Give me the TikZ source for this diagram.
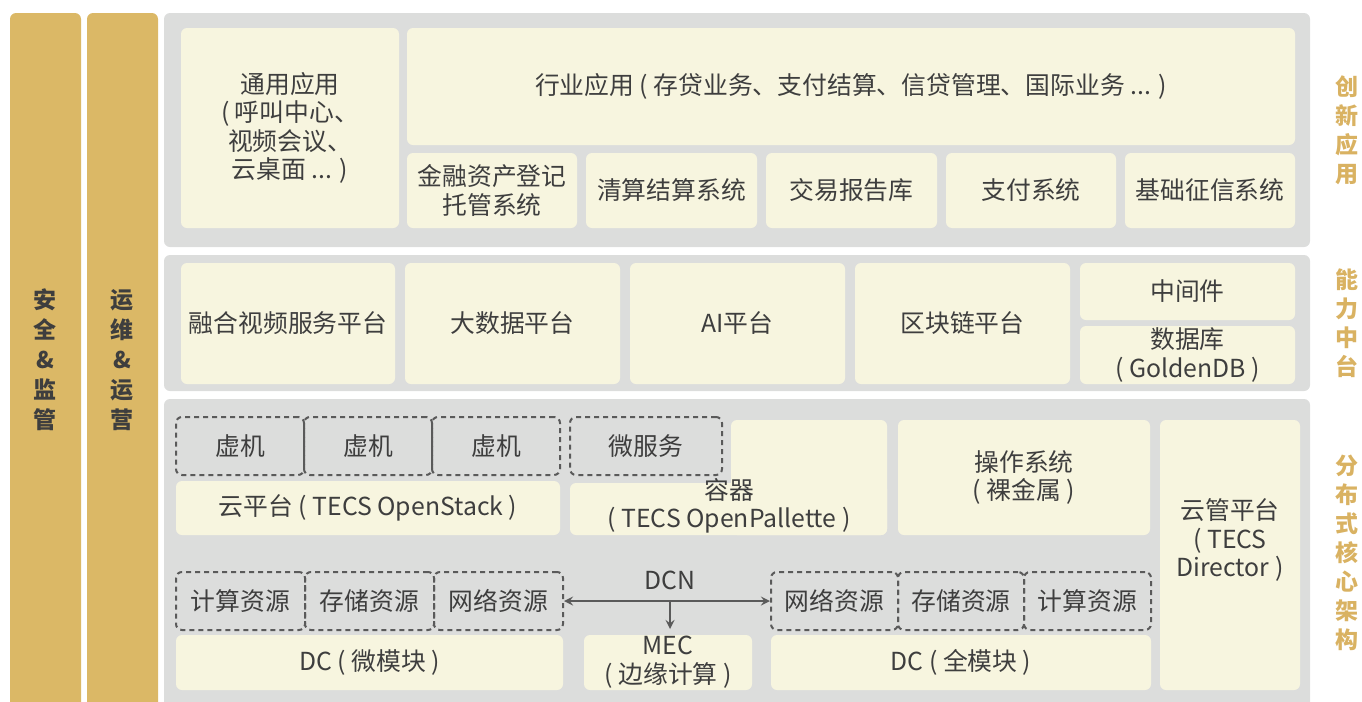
\documentclass[tikz,border=0pt]{standalone}
\usepackage{fontspec}
\setmainfont{Noto Sans CJK SC}
\usetikzlibrary{fit}

\definecolor{gold}{HTML}{DBB866}
\definecolor{goldtext}{HTML}{D9B262}
\definecolor{layergray}{HTML}{DCDDDC}
\definecolor{cream}{HTML}{F7F5DF}
\definecolor{ink}{HTML}{3E3E3E}
\definecolor{dashgray}{HTML}{5A5A5A}

\tikzset{
  layer/.style={fill=layergray, rounded corners=3pt, inner sep=0pt},
  box/.style={fill=cream, rounded corners=3pt, inner sep=0pt},
  dbox/.style={draw=dashgray, line width=1pt, dash pattern=on 2.5pt off 2pt,
    rounded corners=3pt, inner sep=0pt},
  bar/.style={fill=gold, rounded corners=3pt, inner sep=0pt},
  barlabel/.style={text=ink, align=center, font=\fontsize{11.5}{15}\selectfont\bfseries},
  sidelabel/.style={text=goldtext, align=center, font=\fontsize{11.5}{14.5}\selectfont\bfseries},
  label/.style={text=ink, align=center, inner sep=0pt, font=\fontsize{12.4}{14.3}\selectfont},
}

\begin{document}
\begin{tikzpicture}[x=0.5pt, y=-0.5pt]
\useasboundingbox (0,0) rectangle (1362,702);

% side bars
\node[bar, fit={(10,13) (81,720)}] (secbar) {};
\node[bar, fit={(87,13) (158,720)}] (opsbar) {};
\node[barlabel] (seclabel) at (45,360) {安\\全\\\&\\监\\管};
\node[barlabel] (opslabel) at (122,360) {运\\维\\\&\\运\\营};

% layers
\node[layer, fit={(164,13) (1310,247)}] (apps) {};
\node[layer, fit={(164,255) (1310,391)}] (mid) {};
\node[layer, fit={(164,399) (1310,720)}] (core) {};

\node[sidelabel] (appslabel) at (1347,130) {创\\新\\应\\用};
\node[sidelabel] (midlabel) at (1347,323) {能\\力\\中\\台};
\node[sidelabel] (corelabel) at (1347,553) {分\\布\\式\\核\\心\\架\\构};

% innovation applications
\node[box, fit={(181,28) (399,228)}] (general) {};
\node[box, fit={(407,28) (1295,145)}] (industry) {};
\node[box, fit={(407,153) (577,228)}] (custody) {};
\node[box, fit={(586,153) (757,228)}] (clearing) {};
\node[box, fit={(766,153) (937,228)}] (report) {};
\node[box, fit={(946,153) (1116,228)}] (payment) {};
\node[box, fit={(1125,153) (1295,228)}] (credit) {};
\node[label] (generaltext) at (general) {通用应用\\( 呼叫中心、\\视频会议、\\云桌面 ... )};
\node[label] (industrytext) at (industry) {行业应用 ( 存贷业务、支付结算、信贷管理、国际业务 ... )};
\node[label] (custodytext) at (custody) {金融资产登记\\托管系统};
\node[label] (clearingtext) at (clearing) {清算结算系统};
\node[label] (reporttext) at (report) {交易报告库};
\node[label] (paymenttext) at (payment) {支付系统};
\node[label] (credittext) at (credit) {基础征信系统};

% capability platform
\node[box, fit={(181,263) (395,384)}] (video) {};
\node[box, fit={(405,263) (620,384)}] (bigdata) {};
\node[box, fit={(630,263) (845,384)}] (ai) {};
\node[box, fit={(855,263) (1070,384)}] (chain) {};
\node[box, fit={(1080,263) (1295,320)}] (middleware) {};
\node[box, fit={(1080,326) (1295,384)}] (database) {};
\node[label] (videotext) at (video) {融合视频服务平台};
\node[label] (bigdatatext) at (bigdata) {大数据平台};
\node[label] (aitext) at (ai) {AI平台};
\node[label] (chaintext) at (chain) {区块链平台};
\node[label] (middlewaretext) at (middleware) {中间件};
\node[label] (databasetext) at (database) {数据库\\( GoldenDB )};

% distributed core
\node[dbox, fit={(176,417) (304,475)}] (vma) {};
\node[dbox, fit={(304,417) (432,475)}] (vmb) {};
\node[dbox, fit={(432,417) (560,475)}] (vmc) {};
\node[dbox, fit={(570,417) (722,475)}] (micro) {};
\node[label] (vmatext) at (vma) {虚机};
\node[label] (vmbtext) at (vmb) {虚机};
\node[label] (vmctext) at (vmc) {虚机};
\node[label] (microtext) at (micro) {微服务};
\node[box, fit={(176,481) (560,535)}] (cloud) {};
\node[label] (cloudtext) at (cloud) {云平台 ( TECS OpenStack )};
\fill[cream, rounded corners=3pt] (731,420) rectangle (887,535);
\node[box, fit={(570,483) (887,535)}] (containerbase) {};
\node[label] (container) at (729,506) {容器\\( TECS OpenPallette )};
\node[box, fit={(898,420) (1150,535)}] (os) {};
\node[label] (ostext) at (os) {操作系统\\( 裸金属 )};
\node[box, fit={(1160,420) (1300,690)}] (manager) {};
\node[label] (managertext) at (1230,540) {云管平台\\( TECS\\Director )};

\node[dbox, fit={(176,572) (305,630)}] (lcompute) {};
\node[dbox, fit={(305,572) (434,630)}] (lstorage) {};
\node[dbox, fit={(434,572) (563,630)}] (lnetwork) {};
\node[label] (lcomputetext) at (lcompute) {计算资源};
\node[label] (lstoragetext) at (lstorage) {存储资源};
\node[label] (lnetworktext) at (lnetwork) {网络资源};
\node[box, fit={(176,635) (563,690)}] (dcmicro) {};
\node[label] (dcmicrotext) at (dcmicro) {DC ( 微模块 )};

\node[dbox, fit={(771,572) (898,630)}] (rnetwork) {};
\node[dbox, fit={(898,572) (1024,630)}] (rstorage) {};
\node[dbox, fit={(1024,572) (1151,630)}] (rcompute) {};
\node[label] (rnetworktext) at (rnetwork) {网络资源};
\node[label] (rstoragetext) at (rstorage) {存储资源};
\node[label] (rcomputetext) at (rcompute) {计算资源};
\node[box, fit={(771,635) (1151,690)}] (dcfull) {};
\node[label] (dcfulltext) at (dcfull) {DC ( 全模块 )};

\node[box, fit={(584,635) (752,690)}] (mec) {};
\node[label] (mectext) at (668,662) {MEC\\( 边缘计算 )};

\coordinate (dcn) at (670,600);
\coordinate (dcnend) at (670,629);
\node[label] (dcnlabel) at (670,580) {DCN};
\draw[dashgray, line width=1pt, <->, >=stealth] (lnetwork.east) -- (rnetwork.west);
\draw[dashgray, line width=1pt, ->, >=stealth] (dcn) -- (dcnend);
\end{tikzpicture}
\end{document}
